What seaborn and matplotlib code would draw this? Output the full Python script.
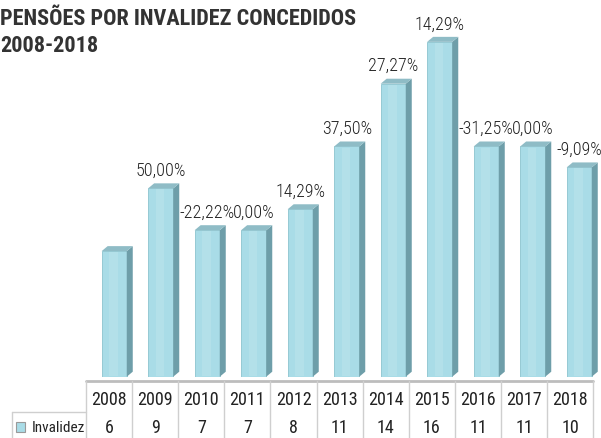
import os
import matplotlib
matplotlib.use("Agg")
import matplotlib.pyplot as plt
import matplotlib.font_manager as fm
from matplotlib.patches import Polygon, Rectangle
import seaborn as sns

# ── data ─────────────────────────────────────────────────────────
years = ["2008", "2009", "2010", "2011", "2012", "2013",
         "2014", "2015", "2016", "2017", "2018"]
invalidez = [6, 9, 7, 7, 8, 11, 14, 16, 11, 11, 10]
pct_labels = ["", "50,00%", "-22,22%", "0,00%", "14,29%", "37,50%",
              "27,27%", "14,29%", "-31,25%", "0,00%", "-9,09%"]
series_name = "Invalidez"
title_lines = ["PENSÕES POR INVALIDEZ CONCEDIDOS", "2008-2018"]

FRONT = "#a9dce7"
SIDE = "#6e9ea9"
TOP = "#8fbcc6"
GRID = "#cfcfcf"
TXT = "#222222"

sns.set_theme(style="white")


def pick_font(keys):
    """First installed font file whose name contains one of keys."""
    files = [f.fname for f in fm.fontManager.ttflist]
    for k in keys:
        for fn in files:
            if k.lower() in os.path.basename(fn).lower():
                return fm.FontProperties(fname=fn)
    return fm.FontProperties(family="DejaVu Sans")


f_bold = pick_font(["RobotoCondensed-Bold", "NotoSans-ExtraCondensedBold.",
                    "NotoSans-CondensedBold.", "LiberationSansNarrow-Bold.",
                    "DejaVuSansCondensed-Bold."])
f_light = pick_font(["RobotoCondensed-Light", "RobotoCondensed-Regular",
                     "NotoSans-CondensedLight.", "NotoSans-Condensed.",
                     "LiberationSansNarrow-Regular", "DejaVuSansCondensed."])
f_reg = pick_font(["RobotoCondensed-Regular", "NotoSans-Condensed.",
                   "LiberationSansNarrow-Regular", "DejaVuSansCondensed."])

fig = plt.figure(figsize=(6.01, 4.38), dpi=100)
W, H = 601, 438

# bar area: category centres at 114 + 46.5*i px, zero line at y=376.7 px
ax = fig.add_axes([(114.2 - 23.25) / W, (H - 376.7) / H, 511.5 / W, 376.7 / H])
sns.barplot(x=years, y=invalidez, ax=ax, color=FRONT, saturation=1,
            width=0.54, edgecolor="#8cc4cf", linewidth=0.6)
ax.set_xlim(-0.5, 10.5)
ax.set_ylim(0, 18)
ax.axis("off")

# fake 3D: side + top faces taken from the drawn bars
dx, dy = 6 / 46.5, 5 / 20.92
for rect in list(ax.patches):
    x0, w, h = rect.get_x(), rect.get_width(), rect.get_height()
    x1 = x0 + w
    ax.add_patch(Polygon([(x1, 0), (x1 + dx, dy), (x1 + dx, h + dy), (x1, h)],
                         closed=True, facecolor=SIDE, edgecolor="none"))
    ax.add_patch(Polygon([(x0, h), (x0 + dx, h + dy), (x1 + dx, h + dy), (x1, h)],
                         closed=True, facecolor=TOP, edgecolor="none"))
    # soft highlight in the middle of the front face
    ax.add_patch(Rectangle((x0 + w * 0.3, 0.05), w * 0.35, h - 0.1,
                           facecolor="white", alpha=0.12, edgecolor="none"))

for i, (v, lbl) in enumerate(zip(invalidez, pct_labels)):
    if lbl:
        ax.annotate(lbl, (i, v), xytext=(0, 9), textcoords="offset points",
                    ha="center", va="baseline", fontproperties=f_light,
                    fontsize=13, color=TXT, annotation_clip=False)

# data table below
tax = fig.add_axes([86 / W, (H - 443) / H, 507.3 / W, 62 / H])
tax.set_xlim(-0.5, 10.5)
tax.set_ylim(0, 2)
tax.axis("off")
tax.plot([-0.5, 10.5], [2, 2], color="#bdbdbd", lw=2, clip_on=False)
for k in range(len(years) + 1):
    tax.plot([k - 0.5, k - 0.5], [-0.2, 2], color=GRID, lw=1, clip_on=False)
for i, (yr, v) in enumerate(zip(years, invalidez)):
    tax.text(i, 1.39, yr, ha="center", va="center", fontproperties=f_reg,
             fontsize=13, color=TXT)
    tax.text(i, 0.47, str(v), ha="center", va="center", fontproperties=f_reg,
             fontsize=13, color=TXT)

# legend cell
leg_l = -0.5 - (86 - 11.7) / 46.12
tax.plot([leg_l, -0.5], [1, 1], color=GRID, lw=1, clip_on=False)
tax.plot([leg_l, leg_l], [-0.2, 1], color=GRID, lw=1, clip_on=False)
tax.add_patch(Rectangle((leg_l + 4 / 46.12, 0.35), 9.5 / 46.12, 0.32,
                        facecolor=FRONT, edgecolor="#9a9a9a", lw=0.8,
                        clip_on=False))
tax.text(leg_l + 20 / 46.12, 0.47, series_name, ha="left", va="center",
         fontproperties=f_reg, fontsize=11, color=TXT)

# title
for line, base in zip(title_lines, [25, 51.7]):
    fig.text(0.5 / W, (H - base) / H, line, ha="left", va="baseline",
             fontproperties=f_bold, fontsize=16, color="#333333")

fig.savefig("out.png", dpi=100)
